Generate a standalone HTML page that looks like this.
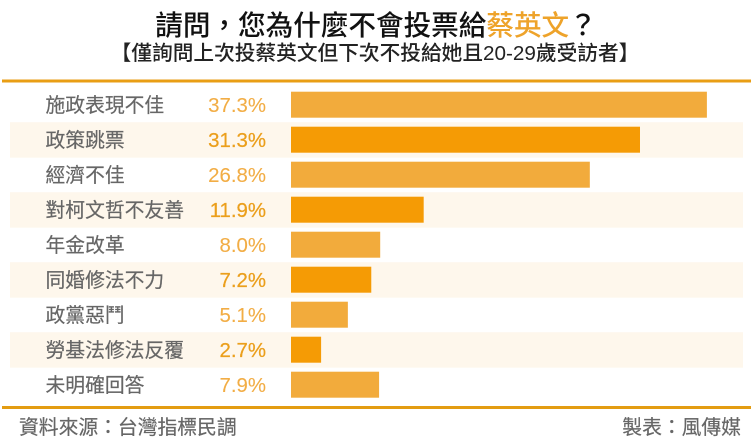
<!DOCTYPE html>
<html lang="zh-Hant">
<head>
<meta charset="utf-8">
<title>請問&#xFF0C;您為什麼不會投票給蔡英文&#xFF1F;</title>
<style>
html,body{margin:0;padding:0;background:#fff;}
body{width:751px;height:443px;overflow:hidden;position:relative;font-family:"Liberation Sans","Noto Sans CJK TC",sans-serif;}
svg{position:absolute;left:0;top:0;}
text{font-family:"Liberation Sans","Noto Sans CJK TC",sans-serif;}
</style>
</head>
<body>
<svg id="chart" width="751" height="443" viewBox="0 0 751 443">
  <text x="376" y="35" text-anchor="middle" font-size="27.6" font-weight="500" fill="#111">請問&#xFF0C;您為什麼不會投票給<tspan fill="#eea32a">蔡英文</tspan>&#xFF1F;</text>
  <text x="375" y="60" text-anchor="middle" font-size="20.7" font-weight="500" fill="#222">【僅詢問上次投蔡英文但下次不投給她且20-29歲受訪者】</text>
  <rect x="2" y="79.5" width="749" height="3" fill="#e99e14"></rect>
  <rect x="2" y="406" width="749" height="3" fill="#e39c12"></rect>
  <g id="rows"></g>
  <text x="19" y="434" font-size="19.8" fill="#666" stroke="#666" stroke-width="0.2">資料來源&#xFF1A;台灣指標民調</text>
  <text x="741" y="434" text-anchor="end" font-size="19.8" fill="#666" stroke="#666" stroke-width="0.2">製表&#xFF1A;風傳媒</text>
</svg>
<script>
const categories = ['施政表現不佳','政策跳票','經濟不佳','對柯文哲不友善','年金改革','同婚修法不力','政黨惡鬥','勞基法修法反覆','未明確回答'];
const seriesValues = [37.3,31.3,26.8,11.9,8.0,7.2,5.1,2.7,7.9];
const valueLabels = ['37.3%','31.3%','26.8%','11.9%','8.0%','7.2%','5.1%','2.7%','7.9%'];

const NS = 'http://www.w3.org/2000/svg';
const rows = document.getElementById('rows');
function xScale(v){ return v * 11.15; }
function rowTop(i){ return 91.7 + i * 35; }

function make(tag, attrs, parent){
  const el = document.createElementNS(NS, tag);
  for (const k in attrs) el.setAttribute(k, attrs[k]);
  parent.appendChild(el);
  return el;
}

categories.forEach(function(cat, i){
  const top = rowTop(i);
  const odd = i % 2 === 1;
  if (odd) {
    const stripe = make('rect', {x:10, y:top-4.5, width:733, height:35.5, fill:'#fef7ec'}, rows);
    
    
  }
  const label = make('text', {x:45.5, y:top+20.5, 'font-size':19.8, fill:'#666', stroke:'#666', 'stroke-width':0.2}, rows);
  label.textContent = cat;
  
  
  const valColor = odd ? '#eb9f1c' : '#f2ad45';
  const val = make('text', {x:266, y:top+20.5, 'text-anchor':'end', 'font-size':20.4, fill:valColor, stroke:valColor, 'stroke-width': odd ? 0.25 : 0.1}, rows);
  val.textContent = valueLabels[i];
  
  
  const bar = make('rect', {x:291, y:top, width:xScale(seriesValues[i]), height:26, fill: odd ? '#f59b05' : '#f2ab3c'}, rows);
  
  
});
</script>
</body>
</html>
